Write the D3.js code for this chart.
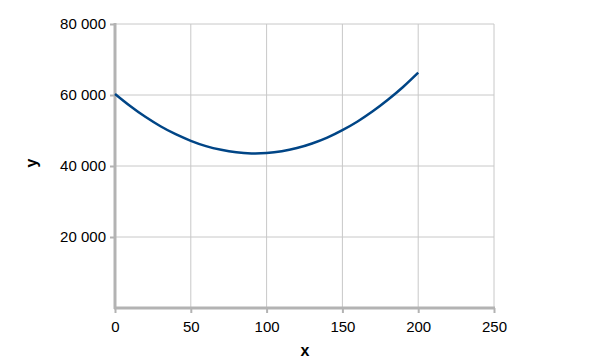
<!DOCTYPE html>
<html lang="en">
<head>
<meta charset="UTF-8">
<title>y vs x</title>
<script src="https://cdn.jsdelivr.net/npm/d3@7"></script>
<style>
  body { margin: 0; background: #fff; }
  text { font-family: "Liberation Sans", Arial, sans-serif; fill: #000; }
  .tick text { font-size: 15px; }
  .title { font-size: 16px; font-weight: bold; }
</style>
</head>
<body>
<div id="chart"></div>
<script>
// values
var xs = [0, 10, 20, 30, 40, 50, 60, 70, 80, 90, 100, 110, 120, 130, 140, 150, 160, 170, 180, 190, 200];
var ys = [60300, 56900, 53850, 51200, 48950, 47100, 45600, 44550, 43850, 43550, 43650, 44150, 45050, 46350, 48000, 50100, 52550, 55400, 58650, 62250, 66300];
var xTicks = [0, 50, 100, 150, 200, 250];
var yTicks = [20000, 40000, 60000, 80000];

var w = 589, h = 363;
var plotLeft = 115, plotRight = 494, plotTop = 24, plotBottom = 308;

var svg = d3.select("#chart").append("svg")
  .attr("width", w)
  .attr("height", h);

var x = d3.scaleLinear().domain([0, 250]).range([plotLeft, plotRight]);
var y = d3.scaleLinear().domain([0, 80000]).range([plotBottom, plotTop]);

var fmt = function(d) { return d3.format(",")(d).replace(/,/g, " "); };

// grid
svg.append("g").selectAll("line")
  .data(xTicks.slice(1))
  .enter().append("line")
  .attr("x1", function(d) { return x(d); })
  .attr("x2", function(d) { return x(d); })
  .attr("y1", plotTop).attr("y2", plotBottom)
  .attr("stroke", "#c8c8c8").attr("stroke-width", 1);

svg.append("g").selectAll("line")
  .data(yTicks)
  .enter().append("line")
  .attr("x1", plotLeft).attr("x2", plotRight)
  .attr("y1", function(d) { return y(d); })
  .attr("y2", function(d) { return y(d); })
  .attr("stroke", "#c8c8c8").attr("stroke-width", 1);

// axes
var xAxis = svg.append("g")
  .attr("transform", "translate(0," + plotBottom + ")")
  .call(d3.axisBottom(x).tickValues(xTicks).tickSize(5).tickPadding(6).tickFormat(fmt));
var yAxis = svg.append("g")
  .attr("transform", "translate(" + plotLeft + ",0)")
  .call(d3.axisLeft(y).tickValues(yTicks).tickSize(5).tickPadding(4).tickFormat(fmt));

[xAxis, yAxis].forEach(function(a) {
  a.select(".domain").remove();
  a.selectAll(".tick line").attr("stroke", "#b3b3b3").attr("stroke-width", 2);
  a.selectAll(".tick text").attr("fill", "#000");
});
xAxis.selectAll(".tick text").attr("dy", "0.85em");

// axis lines
svg.append("line")
  .attr("x1", plotLeft).attr("x2", plotLeft)
  .attr("y1", plotTop - 1).attr("y2", plotBottom + 1)
  .attr("stroke", "#b3b3b3").attr("stroke-width", 3);
svg.append("line")
  .attr("x1", plotLeft - 1).attr("x2", plotRight + 1)
  .attr("y1", plotBottom).attr("y2", plotBottom)
  .attr("stroke", "#b3b3b3").attr("stroke-width", 3);

// curve
var line = d3.line()
  .x(function(d, i) { return x(xs[i]); })
  .y(function(d) { return y(d); })
  .curve(d3.curveNatural);

svg.append("path")
  .datum(ys)
  .attr("d", line)
  .attr("fill", "none")
  .attr("stroke", "#004586")
  .attr("stroke-width", 2.5);

// titles
svg.append("text")
  .attr("class", "title")
  .attr("x", 305).attr("y", 356)
  .attr("text-anchor", "middle")
  .text("x");
svg.append("text")
  .attr("class", "title")
  .attr("transform", "translate(37,163) rotate(-90)")
  .attr("text-anchor", "middle")
  .text("y");
</script>
</body>
</html>
